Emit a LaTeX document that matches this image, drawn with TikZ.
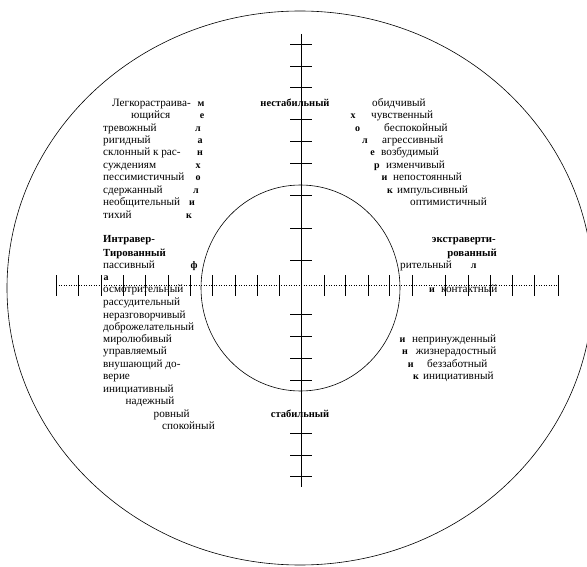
\documentclass[tikz,border=0pt]{standalone}
\usepackage{fontspec}
\setmainfont{Liberation Serif}
\begin{document}
\begin{tikzpicture}[x=1pt,y=-1pt,
  tx/.style={anchor=base west,inner sep=0pt,font=\fontsize{11.2}{12}\selectfont},
  txe/.style={anchor=base east,inner sep=0pt,font=\fontsize{11.2}{12}\selectfont},
  tb/.style={tx,font=\fontsize{10.8}{12}\selectfont\bfseries},
  tbe/.style={txe,font=\fontsize{10.8}{12}\selectfont\bfseries},
  lt/.style={anchor=base,inner sep=0pt,font=\fontsize{10}{12}\selectfont\bfseries},
  lab/.style={anchor=base,inner sep=0pt,font=\fontsize{10.5}{12}\selectfont\bfseries},
  axis/.style={line width=0.8pt},
  vtick/.style={line width=0.9pt},
  htick/.style={line width=0.5pt},
  ring/.style={line width=0.6pt}]
\useasboundingbox (0,0) rectangle (587,567);
% circles
\draw[ring] (300,288) ellipse [x radius=293, y radius=277];
\draw[ring] (300.5,288) ellipse [x radius=99.5, y radius=103];
% vertical axis
\coordinate (vtop) at (301,34);
\coordinate (vbot) at (301,487);
\draw[axis] (vtop) -- (vbot);
\foreach \y in {44.4,66,87.7,119,141.5,163,195.7,228,260,314.8,336.5,358,380,433,455,476.5}
  \draw[vtick] (290,\y) -- (311.5,\y);
% horizontal axis
\coordinate (hl) at (56,285);
\coordinate (hr) at (558,285);
\draw[dotted,line width=0.5pt] (hl) -- (hr);
\foreach \x in {56,78.6,101,123.5,145,168,190,212,235,257,279,324,345.6,368,389,412.5,445.5,468,490.5,512,534.6,558}
  \draw[htick] (\x,275) -- (\x,296);
% upper left
\node[tx] (a1) at (112,107) {Легкорастраива-};
\node[tx] (a2) at (131,119) {ющийся};
\node[tx] (a3) at (103,131.5) {тревожный};
\node[tx] (a4) at (103,144) {ригидный};
\node[tx] (a5) at (103,156) {склонный к рас-};
\node[tx] (a6) at (103,169) {суждениям};
\node[tx] (a7) at (103,181) {пессимистичный};
\node[tx] (a8) at (103,193.6) {сдержанный};
\node[tx] (a9) at (103,206) {необщительный};
\node[tx] (a10) at (103,218.5) {тихий};
\node[lt] (m1) at (201,107) {м};
\node[lt] (m2) at (202,119) {е};
\node[lt] (m3) at (198,131.5) {л};
\node[lt] (m4) at (200,144) {а};
\node[lt] (m5) at (200,156) {н};
\node[lt] (m6) at (198,169) {х};
\node[lt] (m7) at (198,181) {о};
\node[lt] (m8) at (196,193.6) {л};
\node[lt] (m9) at (192,206) {и};
\node[lt] (m10) at (189,218.5) {к};
% top / bottom labels
\node[lab] (nst) at (295,107) {нестабильный};
\node[lab] (st) at (300,417.4) {стабильный};
% upper right
\node[tx] (b1) at (372,107) {обидчивый};
\node[tx] (b2) at (371,119) {чувственный};
\node[tx] (b3) at (384,131.5) {беспокойный};
\node[tx] (b4) at (382,144) {агрессивный};
\node[tx] (b5) at (381,156) {возбудимый};
\node[tx] (b6) at (386,169) {изменчивый};
\node[tx] (b7) at (393,181) {непостоянный};
\node[tx] (b8) at (397,193.6) {импульсивный};
\node[tx] (b9) at (410,206) {оптимистичный};
\node[lt] (h1) at (353,119) {х};
\node[lt] (h2) at (357.5,131.5) {о};
\node[lt] (h3) at (365,144) {л};
\node[lt] (h4) at (372.5,156) {е};
\node[lt] (h5) at (377,169) {р};
\node[lt] (h6) at (384.5,181) {и};
\node[lt] (h7) at (390,193.6) {к};
% middle left
\node[tb] (c1) at (103,243) {Интравер-};
\node[tb] (c2) at (103,256.4) {Тированный};
\node[tx] (c3) at (103,268.7) {пассивный};
\node[lt] (f1) at (194,268.7) {ф};
\node[lt] (f2) at (106,280) {а};
\node[tx] (c4) at (103,292.5) {осмотрительный};
\node[tx] (c5) at (103,305.5) {рассудительный};
\node[tx] (c6) at (103,318) {неразговорчивый};
\node[tx] (c7) at (103,330) {доброжелательный};
\node[tx] (c8) at (103,342.4) {миролюбивый};
\node[tx] (c9) at (103,354.6) {управляемый};
\node[tx] (c10) at (103,367) {внушающий до-};
\node[tx] (c11) at (103,379) {верие};
\node[tx] (c12) at (103,392) {инициативный};
\node[tx] (c13) at (125.4,404.5) {надежный};
\node[tx] (c14) at (153.5,417.4) {ровный};
\node[tx] (c15) at (162,429.7) {спокойный};
% middle right
\node[tbe] (d1) at (496,243) {экстраверти-};
\node[tbe] (d2) at (497,256.4) {рованный};
\node[tx] (d3) at (400,268.7) {рительный};
\node[lt] (s1) at (473.6,268.7) {л};
\node[lt] (s2) at (432,292.5) {и};
\node[tx] (d4) at (441,292.5) {контактный};
\node[lt] (s3) at (402.5,342.4) {и};
\node[tx] (d5) at (412,342.4) {непринужденный};
\node[lt] (s4) at (405,354.6) {н};
\node[tx] (d6) at (415.6,354.6) {жизнерадостный};
\node[lt] (s5) at (410.7,367) {и};
\node[tx] (d7) at (427,367) {беззаботный};
\node[lt] (s6) at (416,379) {к};
\node[tx] (d8) at (423,379) {инициативный};
\end{tikzpicture}
\end{document}
